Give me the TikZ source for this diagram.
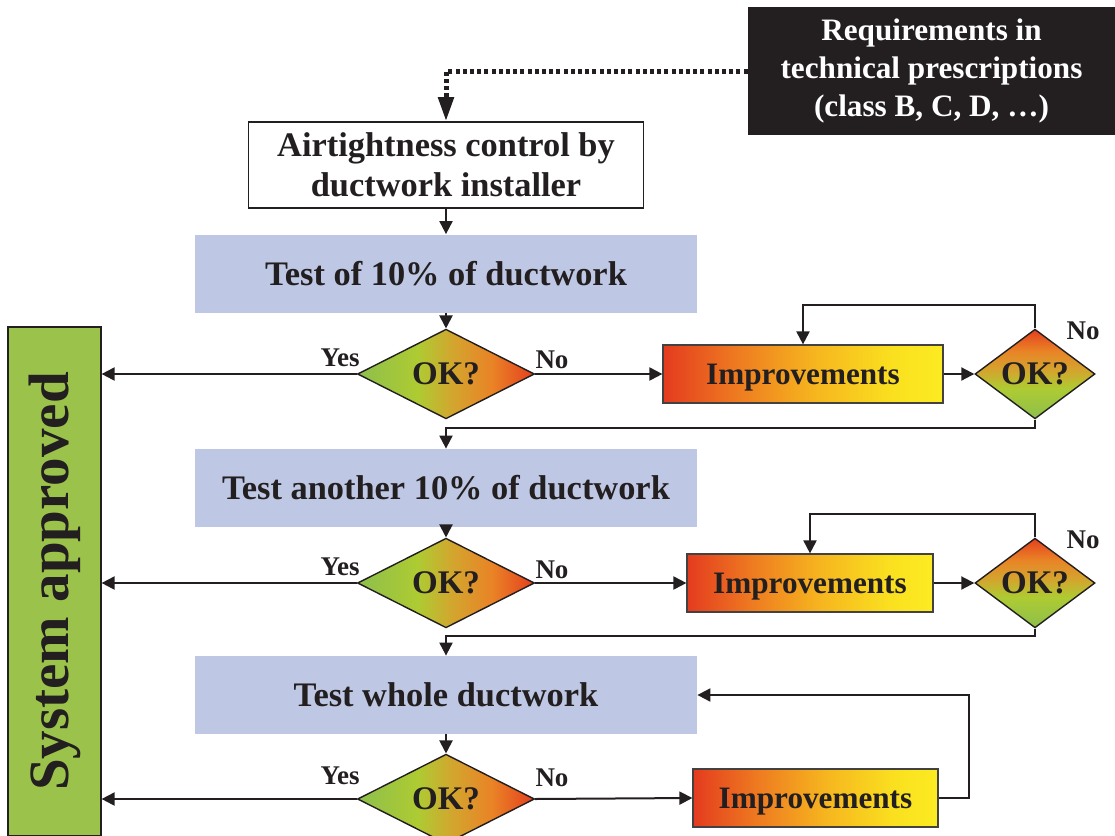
\documentclass[tikz,border=0pt]{standalone}
\usepackage{fontspec}
\setmainfont{Liberation Serif}
\usetikzlibrary{shapes.geometric,arrows.meta}

\definecolor{ink}{HTML}{231F20}
\definecolor{testblue}{HTML}{BEC7E3}
\definecolor{okgreen}{HTML}{9BC34B}
% check diamonds: green -> yellow-green -> orange -> red
\definecolor{gA}{HTML}{8DBF4C}
\definecolor{gB}{HTML}{AECB32}
\definecolor{gC}{HTML}{D3A52E}
\definecolor{gD}{HTML}{E98326}
\definecolor{gE}{HTML}{E53F1E}
% improvement boxes: red -> orange -> yellow
\definecolor{iA}{HTML}{E43B1F}
\definecolor{iB}{HTML}{EE7A20}
\definecolor{iC}{HTML}{F6B51F}
\definecolor{iD}{HTML}{FAE01F}
\definecolor{iE}{HTML}{FCEB22}

\pgfdeclarehorizontalshading{okh}{100bp}{color(0bp)=(gA); color(25bp)=(gA); color(42bp)=(gB); color(52bp)=(gC); color(63bp)=(gD); color(75bp)=(gE); color(100bp)=(gE)}
\pgfdeclareverticalshading{okv}{100bp}{color(0bp)=(gA); color(25bp)=(gA); color(42bp)=(gB); color(52bp)=(gC); color(63bp)=(gD); color(75bp)=(gE); color(100bp)=(gE)}
\pgfdeclarehorizontalshading{imph}{100bp}{color(0bp)=(iA); color(25bp)=(iA); color(38bp)=(iB); color(52bp)=(iC); color(66bp)=(iD); color(75bp)=(iE); color(100bp)=(iE)}

\begin{document}
\begin{tikzpicture}[x=0.5pt,y=-0.5pt,
  box/.style={rectangle, inner sep=0pt, align=center, text=ink},
  testbox/.style={box, fill=testblue, minimum width=251pt, minimum height=39pt,
    font=\bfseries\fontsize{17.2}{20}\selectfont},
  check/.style={diamond, draw=ink, line width=0.7pt, inner sep=0pt, shade, shading=okh,
    text=ink, text depth=-1pt, font=\bfseries\fontsize{16.5}{18}\selectfont},
  sidecheck/.style={check, shading=okv},
  fixbox/.style={box, draw=ink!85, line width=0.6pt, shade, shading=imph, minimum height=29pt,
    text depth=0pt, font=\bfseries\fontsize{15.6}{18}\selectfont},
  answer/.style={inner sep=0pt, text=ink, font=\bfseries\fontsize{13.5}{15}\selectfont},
  link/.style={draw=ink, line width=1pt, -{Triangle[length=6.5pt,width=6.5pt]}},
  dotlink/.style={draw=ink, line width=2.5pt, dash pattern=on 2pt off 1.6pt,
    -{Triangle[length=12pt,width=7.5pt]}}]
\useasboundingbox (0,0) rectangle (1115,836);

% source of requirements and the first control step
\node[box, fill=ink, text=white, minimum width=183.5pt, minimum height=64pt,
  font=\bfseries\fontsize{15.6}{19}\selectfont] (req) at (931.5,71)
  {Requirements in\\technical prescriptions\\(class B, C, D, \dots)};
\node[box, draw=ink, line width=0.8pt, fill=white, minimum width=197.5pt, minimum height=43pt,
  font=\bfseries\fontsize{17.2}{20}\selectfont] (ctrl) at (446,165)
  {Airtightness control by\\ductwork installer};

% approval bar on the left
\node[box, draw=ink, line width=0.6pt, fill=okgreen, minimum width=46.5pt, minimum height=254.5pt,
  font=\bfseries\fontsize{28.5}{30}\selectfont] (sys) at (54.5,581.5)
  {\rotatebox{90}{System approved}};

% first stage
\node[testbox] (t1) at (446,273.5) {Test of 10\% of ductwork};
\node[check, minimum width=88.5pt, minimum height=37pt] (d1) at (446,374) {OK?};
\node[fixbox, minimum width=140pt] (imp1) at (803,374) {Improvements};
\node[sidecheck, minimum width=60pt, minimum height=36pt] (d2) at (1035,374) {OK?};
\node[answer] (y1) at (340,358) {Yes};
\node[answer] (n1) at (552,360) {No};
\node[answer] (n2) at (1083,331) {No};
\coordinate (loopA) at (1035,305);
\coordinate (backA) at (1035,428);

% second stage
\node[testbox] (t2) at (446,488) {Test another 10\% of ductwork};
\node[check, minimum width=88.5pt, minimum height=37pt] (d3) at (446,583) {OK?};
\node[fixbox, minimum width=123pt] (imp2) at (810,583) {Improvements};
\node[sidecheck, minimum width=60pt, minimum height=37pt] (d4) at (1035,583) {OK?};
\node[answer] (y2) at (340,567) {Yes};
\node[answer] (n3) at (552,570) {No};
\node[answer] (n4) at (1083,540) {No};
\coordinate (loopB) at (1035,514);
\coordinate (backB) at (1035,636);

% final stage
\node[testbox] (t3) at (446,695) {Test whole ductwork};
\node[check, minimum width=88.5pt, minimum height=38pt] (d5) at (446,799) {OK?};
\node[fixbox, minimum width=122.5pt] (imp3) at (815.5,798) {Improvements};
\node[answer] (y3) at (340,776) {Yes};
\node[answer] (n5) at (552,778) {No};
\coordinate (retC) at (969,798);

% connectors
\draw[dotlink] (req.west) -| (ctrl.north);
\draw[link] (ctrl.south) -- (t1.north);

\draw[link] (t1.south) -- (d1.north);
\draw[link] (d1.west) -- (d1.west -| sys.east);
\draw[link] (d1.east) -- (imp1.west);
\draw[link] (imp1.east) -- (d2.west);
\draw[link] (d2.north) -- (loopA) -| (imp1.north);
\draw[link] (d2.south) -- (backA) -| (t2.north);

\draw[link] (t2.south) -- (d3.north);
\draw[link] (d3.west) -- (d3.west -| sys.east);
\draw[link] (d3.east) -- (imp2.west);
\draw[link] (imp2.east) -- (d4.west);
\draw[link] (d4.north) -- (loopB) -| (imp2.north);
\draw[link] (d4.south) -- (backB) -| (t3.north);

\draw[link] (t3.south) -- (d5.north);
\draw[link] (d5.west) -- (d5.west -| sys.east);
\draw[link] (d5.east) -- (imp3.west);
\draw[link] (imp3.east) -- (retC) |- (t3.east);
\end{tikzpicture}
\end{document}
